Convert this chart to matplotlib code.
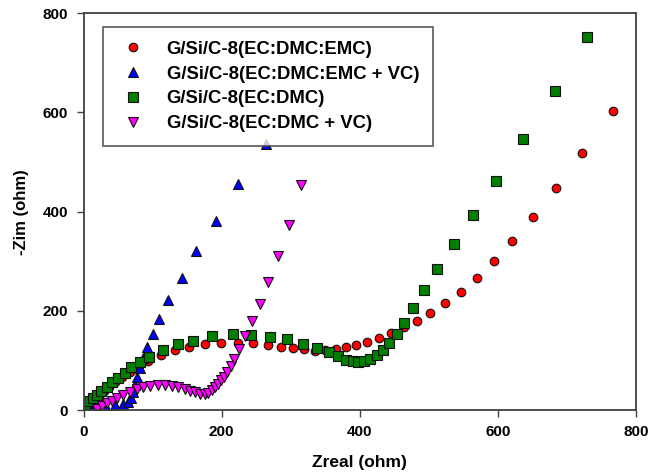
import matplotlib
matplotlib.use("Agg")
import matplotlib.pyplot as plt

plt.rcParams['font.family'] = ['Liberation Sans', 'DejaVu Sans']

# G/Si/C-8(EC:DMC:EMC)
red_x = [2, 6, 10, 16, 22, 29, 37, 46, 56, 67, 80, 93.3, 112.2, 133.1, 153.4, 175.8, 199.0, 222.9,
         245.6, 266.3, 285.1, 303.9, 319.1, 335.0, 349.9, 365.0, 379.9, 393.9, 410.3, 427.2,
         444.6, 463.1, 482.2, 501.7, 523.6, 545.9, 569.5, 594.1, 620.6, 650.8, 683.1, 721.9, 765.9]
red_y = [4, 9, 14, 21, 29, 38, 47, 57, 67, 77, 88, 98.8, 110.9, 121.0, 127.6, 133.1, 135.7, 135.7,
         134.5, 131.1, 127.6, 125.4, 122.4, 119.6, 121.0, 123.6, 126.4, 130.5, 137.1, 144.6,
         154.7, 166.4, 179.9, 196.2, 215.2, 237.3, 267.2, 299.9, 340.2, 389.2, 448.3, 518.9, 603.6]

# G/Si/C-8(EC:DMC:EMC + VC)
blue_x = [10, 15, 20, 25, 31.1, 45.6, 57.2, 64.4, 68.7, 71.6, 74.5, 77.4, 81.8, 86.1, 91.9,
          100.1, 109.3, 123.0, 142.1, 163.2, 191.3, 224.0, 263.7]
blue_y = [2, 5, 8, 10, 10.1, 10.1, 12.1, 16.1, 24.2, 36.3, 50.4, 66.5, 84.7, 104.9, 127.0,
          153.3, 183.5, 221.8, 267.2, 320.0, 381.7, 455.1, 536.4]

# G/Si/C-8(EC:DMC)
green_x = [0.5, 1.5, 2.6, 8.0, 13.3, 19.1, 25.8, 33.6, 41.2, 49.9, 59.6, 69.2, 81.3, 94.4, 114.6,
           136.3, 158.5, 185.5, 215.9, 241.7, 269.9, 295.2, 317.7, 337.9, 354.8, 368.3, 379.9,
           389.6, 397.7, 406.4, 415.0, 424.3, 433.0, 442.5, 453.0, 463.8, 476.4, 492.8, 512.0,
           535.7, 564.1, 597.0, 635.6, 682.8, 728.2]
green_y = [2, 6, 12.1, 17.5, 23.6, 30.2, 38.3, 47.0, 55.9, 65.1, 75.2, 86.1, 96.2, 107.5, 121.0,
           133.1, 139.7, 148.6, 153.3, 151.2, 147.8, 142.6, 133.1, 125.6, 116.4, 108.9, 101.4,
           98.8, 97.4, 99.4, 103.4, 110.9, 121.0, 134.5, 153.3, 176.4, 205.7, 241.0, 283.7,
           334.1, 393.8, 461.8, 547.1, 643.9, 751.6]

# G/Si/C-8(EC:DMC + VC)
mag_x = [19.5, 26.3, 33.6, 40.8, 48.9, 57.6, 67.3, 77.0, 86.5, 96.2, 108.2, 117.9, 127.6, 137.2,
         146.9, 154.1, 161.4, 168.6, 175.8, 180.6, 185.5, 190.3, 195.1, 199.7, 203.3, 208.1,
         213.0, 217.8, 225.5, 233.0, 243.4, 255.4, 266.3, 281.5, 298.1, 314.8]
mag_y = [2.0, 8.1, 13.5, 18.8, 23.6, 30.2, 36.3, 41.7, 45.8, 48.4, 50.4, 49.8, 48.4, 45.8,
         41.7, 37.9, 35.3, 32.3, 31.7, 34.9, 40.3, 47.0, 53.4, 60.5, 67.2, 77.2,
         88.7, 102.8, 122.4, 149.2, 178.5, 213.8, 257.5, 310.5, 373.5, 453.1]

labels = ["G/Si/C-8(EC:DMC:EMC)", "G/Si/C-8(EC:DMC:EMC + VC)",
          "G/Si/C-8(EC:DMC)", "G/Si/C-8(EC:DMC + VC)"]
x_ticks = [0, 200, 400, 600, 800]
y_ticks = [0, 200, 400, 600, 800]

fig = plt.figure(figsize=(6.48, 4.75), dpi=100)
ax = fig.add_axes([83.5 / 648, 65 / 475, (636.3 - 83.5) / 648, (410 - 13.3) / 475])

ec = '#111111'
ax.plot(red_x, red_y, linestyle='none', marker='o', ms=6.2, mfc='#ff0000', mec=ec, mew=0.8, label=labels[0])
ax.plot(blue_x, blue_y, linestyle='none', marker='^', ms=7.5, mfc='#0000ff', mec=ec, mew=0.8, label=labels[1])
ax.plot(green_x, green_y, linestyle='none', marker='s', ms=6.5, mfc='#007f00', mec=ec, mew=0.8, label=labels[2])
ax.plot(mag_x, mag_y, linestyle='none', marker='v', ms=7.5, mfc='#ff00ff', mec=ec, mew=0.8, label=labels[3])

ax.set_xlim(0, 800)
ax.set_ylim(0, 800)
ax.set_xticks(x_ticks)
ax.set_yticks(y_ticks)
ax.tick_params(direction='out', length=5, width=1, color='#404040', labelsize=11, pad=6)
for lab in ax.get_xticklabels() + ax.get_yticklabels():
    lab.set_fontweight('bold')
for s in ax.spines.values():
    s.set_color('#404040')
    s.set_linewidth(1.3)

ax.set_xlabel("Zreal (ohm)", fontsize=12.5, fontweight='bold', labelpad=11)
ax.set_ylabel("-Zim (ohm)", fontsize=12, fontweight='bold', labelpad=10)

leg = ax.legend(loc='upper left', bbox_to_anchor=(103 / 648, 1 - 27 / 475),
                bbox_transform=fig.transFigure, frameon=True, fancybox=False,
                prop={'weight': 'bold', 'size': 13.3}, borderpad=0.75, labelspacing=0.42,
                handletextpad=0.9, handlelength=1.8, borderaxespad=0)
leg.get_frame().set_edgecolor('#404040')
leg.get_frame().set_linewidth(1.3)
leg.set_zorder(10)

fig.savefig("out.png", dpi=100)
